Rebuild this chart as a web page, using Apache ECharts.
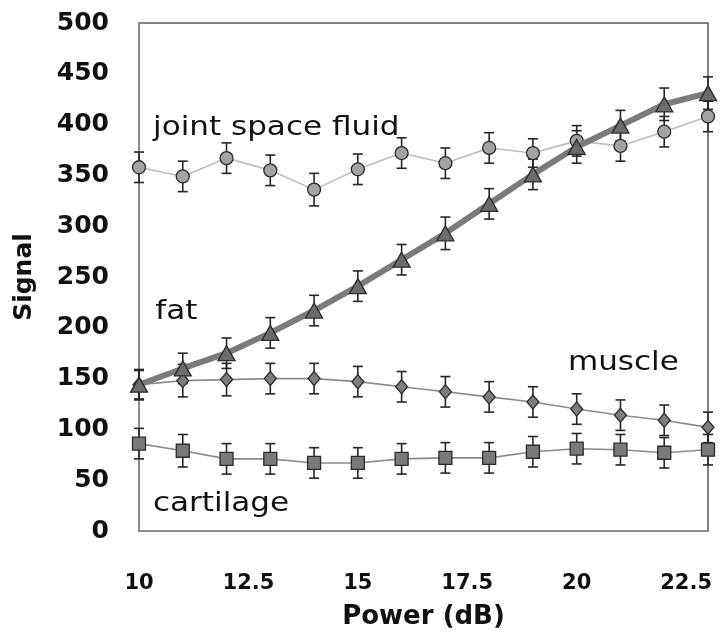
<!DOCTYPE html>
<html>
<head>
<meta charset="utf-8">
<script src="https://cdn.jsdelivr.net/npm/echarts@6/dist/echarts.min.js"></script>
<style>
  html, body { margin: 0; padding: 0; background: #fff; }
  #chart { width: 722px; height: 641px; }
</style>
</head>
<body>
<div id="chart"></div>
<script>
// Transmit power (dB)
const power = [10, 11, 12, 13, 14, 15, 16, 17, 18, 19, 20, 21, 22, 23];

// Mean signal per tissue
const fluid     = [358, 349, 367, 355, 336, 356, 372, 362, 377, 372, 384, 379, 393, 408];
const fat       = [144, 160, 175, 195, 217, 241, 267, 293, 322, 351, 378, 399, 420, 431];
const muscle    = [144, 148, 149, 150, 150, 147, 142, 137, 132, 127, 120, 114, 109, 102];
const cartilage = [86, 79, 71, 71, 67, 67, 71, 72, 72, 78, 81, 80, 77, 80];

// Standard deviation per point
const fluidErr     = [15, 15, 15, 15, 16, 15, 15, 15, 15, 14, 15, 15, 15, 15];
const fatErr       = [14, 15, 15, 15, 15, 15, 15, 16, 15, 15, 16, 15, 16, 16];
const muscleErr    = [15, 16, 16, 15, 15, 15, 15, 15, 15, 15, 15, 15, 15, 15];
const cartilageErr = [15, 16, 15, 15, 15, 15, 15, 15, 15, 15, 15, 15, 15, 15];

// Axis tick labels
const xTicks = ['10', '12.5', '15', '17.5', '20', '22.5'];
const yTicks = ['0', '50', '100', '150', '200', '250', '300', '350', '400', '450', '500'];

// Tissue names written inside the plot
const tissueNames = ['joint space fluid', 'fat', 'muscle', 'cartilage'];

function pairs(ys) { return power.map((x, i) => [x, ys[i]]); }
function triples(ys, es) { return power.map((x, i) => [x, ys[i], es[i]]); }

function errorBars(ys, es) {
  return {
    type: 'custom',
    z: 1,
    silent: true,
    data: triples(ys, es),
    renderItem(params, api) {
      const x = api.value(0), y = api.value(1), e = api.value(2);
      const top = api.coord([x, y + e]);
      const bot = api.coord([x, y - e]);
      const cap = 5;
      const st = { stroke: '#262626', lineWidth: 1.6 };
      return {
        type: 'group',
        children: [
          { type: 'line', shape: { x1: top[0], y1: top[1], x2: bot[0], y2: bot[1] }, style: st },
          { type: 'line', shape: { x1: top[0] - cap, y1: top[1], x2: top[0] + cap, y2: top[1] }, style: st },
          { type: 'line', shape: { x1: bot[0] - cap, y1: bot[1], x2: bot[0] + cap, y2: bot[1] }, style: st }
        ]
      };
    }
  };
}

function lineSeries(name, ys, opts) {
  return Object.assign({
    name: name,
    type: 'line',
    z: 3,
    data: pairs(ys),
    clip: false,
    showAllSymbol: true,
    itemStyle: { borderColor: '#2b2b2b', borderWidth: 1.3, opacity: 1 },
    emphasis: { disabled: true }
  }, opts);
}

const chart = echarts.init(document.getElementById('chart'), null, { renderer: 'canvas' });

const option = {
  animation: false,
  backgroundColor: '#ffffff',
  grid: {
    left: 139, right: 14, top: 23, bottom: 110,
    show: true, borderColor: '#5a5a5a', borderWidth: 1.5, backgroundColor: 'transparent'
  },
  xAxis: {
    type: 'value',
    min: 10, max: 23, interval: 2.5,
    name: 'Power (dB)',
    nameLocation: 'middle',
    nameGap: 73,
    nameTextStyle: { fontFamily: 'DejaVu Sans', fontWeight: 'bold', fontSize: 26, color: '#111' },
    axisLine: { show: true, lineStyle: { color: '#8c8c8c', width: 2 } },
    axisTick: { show: false },
    splitLine: { show: false },
    axisLabel: {
      margin: 42,
      showMaxLabel: false,
      fontFamily: 'DejaVu Sans', fontWeight: 'bold', fontSize: 21, color: '#111',
      formatter: v => {
        const s = String(v);
        return xTicks.indexOf(s) >= 0 ? s : '';
      }
    }
  },
  yAxis: {
    type: 'value',
    min: 0, max: 500, interval: 50,
    name: 'Signal',
    nameLocation: 'middle',
    nameGap: 102,
    nameRotate: 90,
    nameTextStyle: { fontFamily: 'DejaVu Sans', fontWeight: 'bold', fontSize: 25, color: '#111' },
    axisLine: { show: true, lineStyle: { color: '#8c8c8c', width: 2 } },
    axisTick: { show: false },
    splitLine: { show: false },
    axisLabel: {
      margin: 30,
      fontFamily: 'DejaVu Sans', fontWeight: 'bold', fontSize: 25, color: '#111',
      formatter: v => yTicks[Math.round(v / 50)]
    }
  },
  series: [
    errorBars(fluid, fluidErr),
    errorBars(muscle, muscleErr),
    errorBars(cartilage, cartilageErr),
    errorBars(fat, fatErr),
    lineSeries('joint space fluid', fluid, {
      symbol: 'circle', symbolSize: 13,
      lineStyle: { color: '#bdbdbd', width: 1.6 },
      itemStyle: { color: '#a3a3a3', borderColor: '#2b2b2b', borderWidth: 1.3 }
    }),
    lineSeries('muscle', muscle, {
      symbol: 'diamond', symbolSize: [12, 14],
      lineStyle: { color: '#8a8a8a', width: 1.6 },
      itemStyle: { color: '#7d7d7d', borderColor: '#2b2b2b', borderWidth: 1.3 }
    }),
    lineSeries('cartilage', cartilage, {
      symbol: 'rect', symbolSize: 13,
      lineStyle: { color: '#8a8a8a', width: 1.6 },
      itemStyle: { color: '#7a7a7a', borderColor: '#2b2b2b', borderWidth: 1.3 }
    }),
    lineSeries('fat', fat, {
      z: 4,
      symbol: 'triangle', symbolSize: [17, 15],
      lineStyle: { color: '#7b7b7b', width: 6 },
      itemStyle: { color: '#6c6c6c', borderColor: '#2b2b2b', borderWidth: 1.3 }
    })
  ]
};

chart.setOption(option);

// Tissue names, anchored in data space (left edge, text middle)
const nameAnchors = [[10.32, 397], [10.37, 216], [19.8, 165], [10.32, 27]];
const nameStretch = 1.15;
const labels = tissueNames.map((t, i) => {
  const p = chart.convertToPixel({ gridIndex: 0 }, nameAnchors[i]);
  return {
    type: 'text',
    x: p[0], y: p[1],
    scaleX: nameStretch,
    z: 10,
    silent: true,
    style: {
      text: t, x: 0, y: 0,
      fontFamily: 'DejaVu Sans', fontSize: 27,
      fill: '#111',
      align: 'left', verticalAlign: 'middle',
      textAlign: 'left', textVerticalAlign: 'middle'
    }
  };
});
chart.setOption({ graphic: labels });
</script>
</body>
</html>
